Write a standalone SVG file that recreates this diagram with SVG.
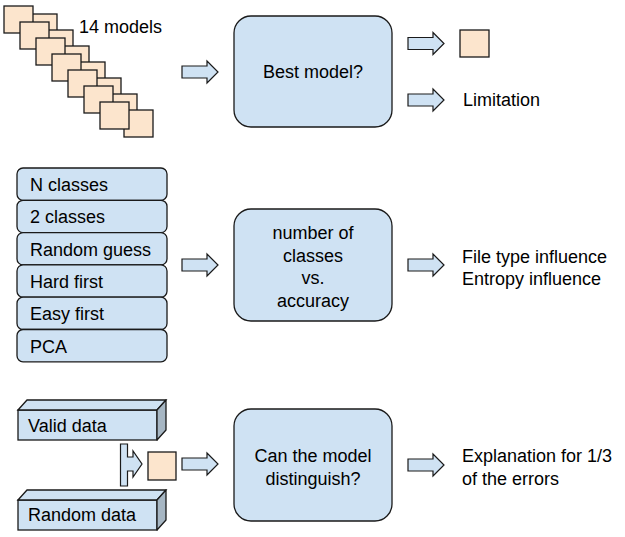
<svg xmlns="http://www.w3.org/2000/svg" xmlns:xlink="http://www.w3.org/1999/xlink" width="625" height="537" viewBox="0 0 625 537">
<style>
  text { font-family: "Liberation Sans", Arial, sans-serif; font-size: 18px; fill: #000; }
  .c { text-anchor: middle; }
  .blue { fill: #cfe2f3; stroke: #1a1a1a; stroke-width: 1.3; }
  .sq { fill: #fce5cd; stroke: #1a1a1a; stroke-width: 1.3; }
  .side { fill: #a6b6c3; stroke: #1a1a1a; stroke-width: 1.3; stroke-linejoin: round; }
  .arr { fill: #cfe2f3; stroke: #1a1a1a; stroke-width: 1.2; stroke-linejoin: miter; }
</style>
<defs>
  <path id="arrow" d="M0,-6 H25 V-11 L36,0 L25,11 V6 H0 Z"/>
</defs>
<rect width="625" height="537" fill="#ffffff"/>

<g id="models">
  <rect class="sq" x="28" y="14" width="29" height="27"/>
  <rect class="sq" x="44" y="30" width="29" height="27"/>
  <rect class="sq" x="60" y="46" width="29" height="27"/>
  <rect class="sq" x="76" y="62" width="29" height="27"/>
  <rect class="sq" x="92" y="78" width="29" height="27"/>
  <rect class="sq" x="108" y="94" width="29" height="27"/>
  <rect class="sq" x="124" y="110" width="29" height="27"/>
  <rect class="sq" x="4" y="6" width="29" height="27"/>
  <rect class="sq" x="20" y="22" width="29" height="27"/>
  <rect class="sq" x="36" y="38" width="29" height="27"/>
  <rect class="sq" x="52" y="54" width="29" height="27"/>
  <rect class="sq" x="68" y="70" width="29" height="27"/>
  <rect class="sq" x="84" y="86" width="29" height="27"/>
  <rect class="sq" x="100" y="102" width="29" height="27"/>
  <text x="79" y="33">14 models</text>
</g>

<g id="best-model">
  <rect class="blue" x="234" y="16" width="158" height="111" rx="17" ry="17"/>
  <text class="c" x="313" y="78">Best model?</text>
</g>

<g id="best-square">
  <rect class="sq" x="460" y="30" width="29" height="27"/>
</g>

<g id="limitation">
  <text x="463" y="106">Limitation</text>
</g>

<g id="methods">
  <rect class="blue" x="17" y="168" width="150" height="32.3" rx="6"/>
  <text x="30" y="191">N classes</text>
  <rect class="blue" x="17" y="200.3" width="150" height="32.3" rx="6"/>
  <text x="30" y="223.3">2 classes</text>
  <rect class="blue" x="17" y="232.6" width="150" height="32.3" rx="6"/>
  <text x="30" y="255.6">Random guess</text>
  <rect class="blue" x="17" y="264.9" width="150" height="32.3" rx="6"/>
  <text x="30" y="287.9">Hard first</text>
  <rect class="blue" x="17" y="297.2" width="150" height="32.3" rx="6"/>
  <text x="30" y="320.2">Easy first</text>
  <rect class="blue" x="17" y="329.5" width="150" height="32.3" rx="6"/>
  <text x="30" y="352.5">PCA</text>
</g>

<g id="classes-vs-accuracy">
  <rect class="blue" x="234" y="209" width="158" height="112" rx="17" ry="17"/>
  <text class="c" x="313" y="239">number of</text>
  <text class="c" x="313" y="261.5">classes</text>
  <text class="c" x="313" y="284">vs.</text>
  <text class="c" x="313" y="306.5">accuracy</text>
</g>

<g id="influence">
  <text x="462" y="263">File type influence</text>
  <text x="462" y="284.5">Entropy influence</text>
</g>

<g id="valid-data">
  <rect class="blue" x="18" y="410" width="139" height="30"/>
  <polygon class="blue" points="18,410 27,400 166,400 157,410"/>
  <polygon class="side" points="157,410 166,400 166,430 157,440"/>
  <text x="28" y="432">Valid data</text>
</g>

<g id="random-data">
  <rect class="blue" x="18" y="500" width="139" height="30"/>
  <polygon class="blue" points="18,500 27,490 166,490 157,500"/>
  <polygon class="side" points="157,500 166,490 166,520 157,530"/>
  <text x="28" y="521">Random data</text>
</g>

<g id="mixed-square">
  <rect class="sq" x="148" y="452" width="28" height="28"/>
</g>

<g id="distinguish">
  <rect class="blue" x="234" y="409" width="158" height="112" rx="17" ry="17"/>
  <text class="c" x="313" y="462">Can the model</text>
  <text class="c" x="313" y="485">distinguish?</text>
</g>

<g id="explanation">
  <text x="462" y="462">Explanation for 1/3</text>
  <text x="462" y="485">of the errors</text>
</g>

<g id="connectors">
  <use class="arr" xlink:href="#arrow" href="#arrow" x="182" y="72"/>
  <use class="arr" xlink:href="#arrow" href="#arrow" x="408" y="43.5"/>
  <use class="arr" xlink:href="#arrow" href="#arrow" x="408" y="100"/>
  <use class="arr" xlink:href="#arrow" href="#arrow" x="182" y="265"/>
  <use class="arr" xlink:href="#arrow" href="#arrow" x="408" y="265"/>
  <path class="arr" d="M120.5,444 H127.5 V457 H133 V451 L142,464 L133,477 V471 H127.5 V486 H120.5 Z"/>
  <use class="arr" xlink:href="#arrow" href="#arrow" x="182" y="464"/>
  <use class="arr" xlink:href="#arrow" href="#arrow" x="408" y="465"/>
</g>
</svg>
